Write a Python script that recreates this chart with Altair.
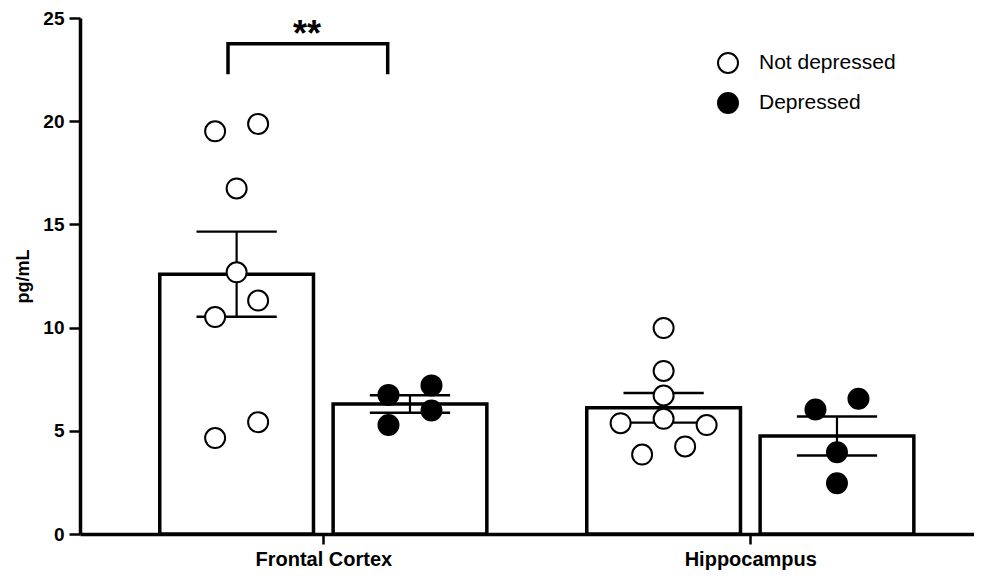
import altair as alt
import pandas as pd
import numpy as np

# ---------------- data ----------------
categories = ["Frontal Cortex", "Hippocampus"]
groups = ["Not depressed", "Depressed"]

fc_not_depressed = [19.51, 19.87, 16.74, 12.68, 11.31, 10.51, 5.42, 4.65]
fc_depressed = [6.74, 7.20, 5.28, 5.98]
hc_not_depressed = [9.98, 7.90, 6.71, 5.58, 5.37, 5.28, 3.85, 4.24]
hc_depressed = [6.03, 6.55, 3.96, 2.46]

y_ticks = [0, 5, 10, 15, 20, 25]
y_title = "pg/mL"
significance_label = "**"
significance_top = 23.75
significance_leg = 22.27

series = {
    ("Frontal Cortex", "Not depressed"): fc_not_depressed,
    ("Frontal Cortex", "Depressed"): fc_depressed,
    ("Hippocampus", "Not depressed"): hc_not_depressed,
    ("Hippocampus", "Depressed"): hc_depressed,
}

# ---------------- layout parameters ----------------
BAR_OFFSET = 0.203   # bar centre offset from category centre (category step = 1)
BAR_HALF = 0.180     # half bar width
CAP_HALF = 0.094     # half error-cap width
JITTER = 0.1007      # horizontal spacing of tied points
TIE = 1.05           # points closer than this (in y units) are spread sideways
PATTERNS = {1: [0.0], 2: [0.5, -0.5], 3: [0.0, -1.0, 1.0]}

point_rows, summary_rows = [], []
for ci, cat in enumerate(categories):
    for gi, grp in enumerate(groups):
        vals = series[(cat, grp)]
        centre = ci + (-BAR_OFFSET if gi == 0 else BAR_OFFSET)
        arr = np.array(vals, dtype=float)
        mean = arr.mean()
        sem = arr.std(ddof=1) / np.sqrt(len(arr))
        summary_rows.append(dict(category=cat, group=grp, mean=mean, lo=mean - sem,
                                 hi=mean + sem, xc=centre, xl=centre - BAR_HALF,
                                 xr=centre + BAR_HALF, cl=centre - CAP_HALF,
                                 cr=centre + CAP_HALF, base=0.0))
        # simple beeswarm: group near-equal values and spread them sideways
        ordered = sorted(vals, reverse=True)
        clusters = []
        for v in ordered:
            if clusters and clusters[-1][0] - v < TIE:
                clusters[-1].append(v)
            else:
                clusters.append([v])
        for cl in clusters:
            n = len(cl)
            pat = PATTERNS.get(n, [k - (n - 1) / 2 for k in range(n)])
            for v, off in zip(cl, pat):
                point_rows.append(dict(category=cat, group=grp, value=v,
                                       px=centre + off * JITTER))

points = pd.DataFrame(point_rows)
summary = pd.DataFrame(summary_rows)

bracket = pd.DataFrame({
    "x": [-0.2232, -0.2232, 0.1508, 0.1508],
    "y": [significance_leg, significance_top, significance_top, significance_leg],
    "i": [0, 1, 2, 3],
})
star = pd.DataFrame({"x": [-0.038], "y": [23.62], "t": [significance_label]})

# ---------------- scales / axes ----------------
XDOM = [-0.5698, 1.5239]
xscale = alt.Scale(domain=XDOM, nice=False, zero=False)
yscale = alt.Scale(domain=[0, 25], nice=False, zero=False)

label_expr = "[" + ",".join("'" + c + "'" for c in categories) + "][round(datum.value)]"
xaxis = alt.Axis(values=list(range(len(categories))), labelExpr=label_expr, title=None,
                 tickSize=10, labelPadding=5, labelFontSize=20, labelFlush=False,
                 labelOverlap=False, grid=False)
yaxis = alt.Axis(values=y_ticks, title=y_title, tickSize=11, labelPadding=5,
                 labelFontSize=19, titleFontSize=18, titlePadding=10, grid=False)


def X(field):
    return alt.X(field, type="quantitative", scale=xscale, axis=xaxis)


def Y(field):
    return alt.Y(field, type="quantitative", scale=yscale, axis=yaxis)


bars = alt.Chart(summary).mark_rect(fill="white", stroke="black", strokeWidth=3.5).encode(
    x=X("xl"), x2="xr", y=Y("mean"), y2="base")

err = alt.Chart(summary).mark_rule(color="black", strokeWidth=2.2).encode(
    x=X("xc"), y=Y("lo"), y2="hi")
cap_hi = alt.Chart(summary).mark_rule(color="black", strokeWidth=2.4).encode(
    x=X("cl"), x2="cr", y=Y("hi"))
cap_lo = alt.Chart(summary).mark_rule(color="black", strokeWidth=2.4).encode(
    x=X("cl"), x2="cr", y=Y("lo"))

pts = alt.Chart(points).mark_point(shape="circle", filled=True, size=400, stroke="black",
                                   strokeWidth=2, opacity=1).encode(
    x=X("px"), y=Y("value"),
    fill=alt.Fill("group:N", scale=alt.Scale(domain=groups, range=["white", "black"]),
                  legend=alt.Legend(title=None, orient="none", legendX=637, legendY=34,
                                    symbolType="circle", symbolSize=400,
                                    symbolStrokeColor="black", symbolStrokeWidth=2,
                                    symbolOpacity=1, labelFontSize=21,
                                    labelFont="Liberation Sans", labelFontWeight="normal",
                                    labelColor="black", labelOffset=20, rowPadding=12,
                                    padding=0)),
)

brk = alt.Chart(bracket).mark_line(color="black", strokeWidth=3.5, strokeCap="butt",
                                   strokeJoin="miter").encode(
    x=X("x"), y=Y("y"), order="i:Q")

stars = alt.Chart(star).mark_text(font="Liberation Sans", fontWeight="bold", fontSize=36,
                                  baseline="alphabetic", align="center", color="black").encode(
    x=X("x"), y=Y("y"), text="t:N")

chart = alt.layer(bars, err, cap_hi, cap_lo, pts, brk, stars).properties(
    width=894, height=516,
    autosize=alt.AutoSizeParams(type="none"),
    padding={"left": 72, "top": 10, "right": 0, "bottom": 37},
).configure_view(strokeWidth=0).configure_axis(
    labelFont="Liberation Sans", labelFontWeight="bold", labelColor="black",
    titleFont="Liberation Sans", titleFontWeight="bold", titleColor="black",
    domainColor="black", domainWidth=3.5, tickColor="black", tickWidth=2.5,
)

chart.save("out.html", embed_options={"renderer": "svg", "actions": False})
